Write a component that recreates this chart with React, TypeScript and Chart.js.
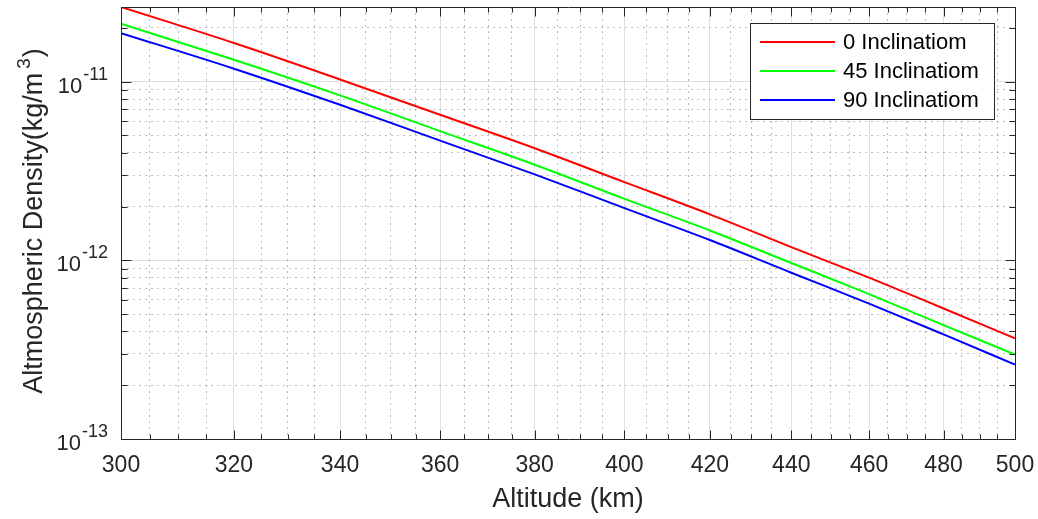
import React, { useEffect, useRef } from 'react';
import { Chart, registerables } from 'chart.js';

Chart.register(...registerables);

// ---- data ----
const altitudes = [300, 320, 340, 360, 380, 400, 420, 440, 460, 480, 500];
const density0 = [2.62e-11, 1.647e-11, 1.03e-11, 6.53e-12, 4.24e-12, 2.74e-12, 1.81e-12, 1.187e-12, 8.0e-13, 5.38e-13, 3.66e-13];
const density45 = [2.11e-11, 1.328e-11, 8.39e-12, 5.29e-12, 3.43e-12, 2.21e-12, 1.47e-12, 9.67e-13, 6.47e-13, 4.34e-13, 2.97e-13];
const density90 = [1.87e-11, 1.183e-11, 7.43e-12, 4.68e-12, 3.03e-12, 1.96e-12, 1.30e-12, 8.53e-13, 5.73e-13, 3.85e-13, 2.61e-13];
const seriesLabels = ['0 Inclinatiom', '45 Inclinatiom', '90 Inclinatiom'];
const seriesColors = ['#ff0000', '#00ff00', '#0000ff'];

const xMin = 300;
const xMax = 500;
const xMajorStep = 20;
const xMinorStep = 5;
const yMin = 1e-13;
const yMax = 2.62e-11;
const yDecadeExponents = [-13, -12, -11];

const xTitle = 'Altitude (km)';
const yTitleMain = 'Altmospheric Density(kg/m';
const yTitleSup = '3';
const yTitleEnd = ')';

const FONT = '"Liberation Sans", Arial, Helvetica, sans-serif';
const AXIS_COLOR = '#262626';
const MAJOR_GRID = 'rgba(38,38,38,0.15)';
const MINOR_GRID = 'rgba(38,38,38,0.3)';

const isXMajor = (v: number) => Math.abs(v % xMajorStep) < 1e-6;
const isYMajor = (v: number) => {
  const l = Math.log10(v);
  return Math.abs(l - Math.round(l)) < 1e-6;
};

const matlabDecor = {
  id: 'matlabDecor',
  afterDraw(chart: any) {
    const { ctx, chartArea: a, scales } = chart;
    const xs = scales.x;
    const ys = scales.y;
    ctx.save();
    ctx.strokeStyle = AXIS_COLOR;
    ctx.lineWidth = 1;
    const L = Math.round(a.left) + 0.5;
    const R = Math.round(a.right) + 0.5;
    const T = Math.round(a.top) + 0.5;
    const B = Math.round(a.bottom) + 0.5;
    ctx.beginPath();
    ctx.rect(L, T, R - L, B - T);
    ctx.stroke();

    ctx.beginPath();
    xs.ticks.forEach((t: any) => {
      const px = Math.round(xs.getPixelForValue(t.value)) + 0.5;
      const len = isXMajor(t.value) ? 9 : 5;
      ctx.moveTo(px, B); ctx.lineTo(px, B - len);
      ctx.moveTo(px, T); ctx.lineTo(px, T + len);
    });
    ys.ticks.forEach((t: any) => {
      const py = Math.round(ys.getPixelForValue(t.value)) + 0.5;
      const len = isYMajor(t.value) ? 10 : 6;
      ctx.moveTo(L, py); ctx.lineTo(L + len, py);
      ctx.moveTo(R, py); ctx.lineTo(R - len, py);
    });
    ctx.stroke();

    // y tick labels with superscript exponents
    ctx.fillStyle = AXIS_COLOR;
    ctx.textBaseline = 'alphabetic';
    ctx.textAlign = 'right';
    const labelRight = a.left - 13;
    ys.ticks.filter((t: any) => isYMajor(t.value)).forEach((t: any) => {
      const py = ys.getPixelForValue(t.value);
      const exp = String(Math.round(Math.log10(t.value)));
      ctx.font = `18px ${FONT}`;
      const ew = ctx.measureText(exp).width;
      ctx.fillText(exp, labelRight, py - 2);
      ctx.font = `22px ${FONT}`;
      ctx.fillText('10', labelRight - ew - 1, py + 11);
    });

    // y title (rotated) with superscript
    ctx.save();
    ctx.translate(33, (a.top + a.bottom) / 2 - 2);
    ctx.rotate(-Math.PI / 2);
    ctx.textAlign = 'left';
    ctx.font = `27px ${FONT}`;
    const w1 = ctx.measureText(yTitleMain).width;
    const w3 = ctx.measureText(yTitleEnd).width;
    ctx.font = `19px ${FONT}`;
    const w2 = ctx.measureText(yTitleSup).width;
    const gap = 4;
    const total = w1 + gap + w2 + 1 + w3;
    const x0 = -total / 2;
    ctx.font = `27px ${FONT}`;
    ctx.fillText(yTitleMain, x0, 9);
    ctx.font = `19px ${FONT}`;
    ctx.fillText(yTitleSup, x0 + w1 + gap, -3);
    ctx.font = `27px ${FONT}`;
    ctx.fillText(yTitleEnd, x0 + w1 + gap + w2 + 1, 9);
    ctx.restore();

    // legend
    const lx = 750.5, ly = 23.5, lw = 244, lh = 96;
    ctx.fillStyle = '#ffffff';
    ctx.fillRect(lx, ly, lw, lh);
    ctx.strokeStyle = AXIS_COLOR;
    ctx.lineWidth = 1;
    ctx.strokeRect(lx, ly, lw, lh);
    ctx.textAlign = 'left';
    ctx.textBaseline = 'middle';
    ctx.font = `22px ${FONT}`;
    chart.data.datasets.forEach((ds: any, i: number) => {
      const yy = 42 + i * 29;
      ctx.strokeStyle = ds.borderColor;
      ctx.lineWidth = 2;
      ctx.beginPath();
      ctx.moveTo(760, yy);
      ctx.lineTo(835, yy);
      ctx.stroke();
      ctx.fillStyle = '#000000';
      ctx.fillText(ds.label, 843, yy + 1);
    });
    ctx.restore();
  },
};

export default function App() {
  const canvasRef = useRef<HTMLCanvasElement | null>(null);

  useEffect(() => {
    if (!canvasRef.current) return;
    const series = [density0, density45, density90];
    const chart = new Chart(canvasRef.current, {
      type: 'line',
      data: {
        datasets: series.map((s, i) => ({
          label: seriesLabels[i],
          data: altitudes.map((alt, j) => ({ x: alt, y: s[j] })),
          borderColor: seriesColors[i],
          backgroundColor: seriesColors[i],
          borderWidth: 2,
          pointRadius: 0,
          cubicInterpolationMode: 'monotone',
          fill: false,
        })),
      },
      options: {
        animation: false,
        responsive: false,
        maintainAspectRatio: false,
        layout: { padding: { left: 0, right: 23, top: 7, bottom: 0 } },
        plugins: { legend: { display: false }, tooltip: { enabled: false } },
        scales: {
          x: {
            type: 'logarithmic',
            min: xMin,
            max: xMax,
            afterBuildTicks: (scale: any) => {
              const t = [];
              for (let v = xMin; v <= xMax; v += xMinorStep) t.push({ value: v });
              scale.ticks = t;
            },
            afterFit: (scale: any) => {
              scale.height = 80;
              scale.paddingLeft = 0;
              scale.paddingRight = 0;
            },
            grid: {
              drawTicks: false,
              color: (c: any) => (c.tick && isXMajor(c.tick.value) ? MAJOR_GRID : MINOR_GRID),
              lineWidth: 1,
            },
            border: {
              display: false,
              dash: (c: any) => (c.tick && !isXMajor(c.tick.value) ? [2, 4] : []),
            },
            ticks: {
              autoSkip: false,
              maxRotation: 0,
              minRotation: 0,
              padding: 13,
              color: AXIS_COLOR,
              font: { family: FONT, size: 23 },
              callback: (v: any) => (isXMajor(Number(v)) ? String(v) : ''),
            },
            title: {
              display: true,
              text: xTitle,
              color: AXIS_COLOR,
              font: { family: FONT, size: 27 },
              padding: { top: 0, bottom: 3 },
            },
          },
          y: {
            type: 'logarithmic',
            min: yMin,
            max: yMax,
            afterBuildTicks: (scale: any) => {
              const t = [];
              for (const e of yDecadeExponents) {
                for (let m = 1; m <= 9; m++) {
                  const v = m * Math.pow(10, e);
                  if (v <= yMax * (1 + 1e-9)) t.push({ value: v });
                }
              }
              scale.ticks = t;
            },
            afterFit: (scale: any) => {
              scale.width = 121;
              scale.paddingTop = 0;
              scale.paddingBottom = 0;
            },
            grid: {
              drawTicks: false,
              color: (c: any) => (c.tick && isYMajor(c.tick.value) ? MAJOR_GRID : MINOR_GRID),
              lineWidth: 1,
            },
            border: {
              display: false,
              dash: (c: any) => (c.tick && !isYMajor(c.tick.value) ? [2, 4] : []),
            },
            ticks: { display: false },
          },
        },
      },
      plugins: [matlabDecor],
    } as any);
    return () => chart.destroy();
  }, []);

  return (
    <div style={{ position: 'fixed', left: 0, top: 0, width: 1038, height: 519, background: '#ffffff' }}>
      <canvas ref={canvasRef} width={1038} height={519} style={{ display: 'block' }} />
    </div>
  );
}
